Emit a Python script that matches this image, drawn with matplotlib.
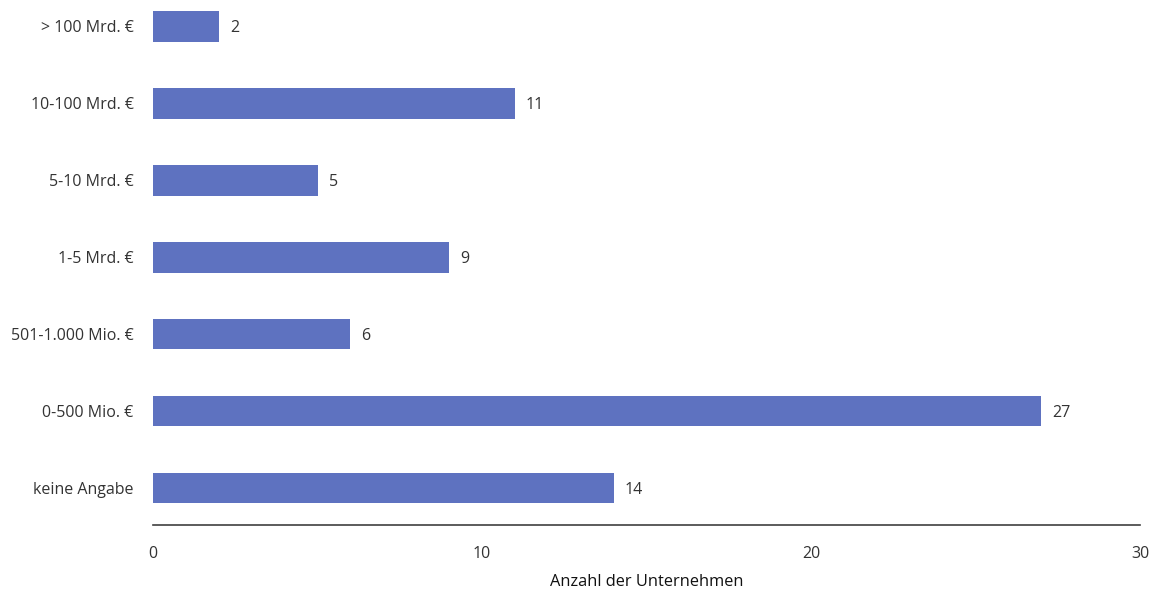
import matplotlib.pyplot as plt

plt.rcParams['font.family'] = ['Open Sans', 'DejaVu Sans']

categories = ['keine Angabe', '0-500 Mio. €', '501-1.000 Mio. €', '1-5 Mrd. €',
              '5-10 Mrd. €', '10-100 Mrd. €', '> 100 Mrd. €']
counts = [14, 27, 6, 9, 5, 11, 2]

bar_color = '#5e72c0'
text_color = '#333333'
fs = 11.5

fig = plt.figure(figsize=(11.6, 5.89), dpi=100)
ax = fig.add_axes([153/1160, 1 - 525/589, 987/1160, 525/589])

pos = list(range(len(categories)))
ax.barh(pos, counts, height=0.4, color=bar_color)
for p, v in zip(pos, counts):
    ax.annotate(str(v), (v, p), xytext=(8, 0), textcoords='offset points',
                va='center_baseline', ha='left', fontsize=fs, color=text_color)

ax.set_xlim(0, 30)
ax.set_ylim(-0.48, 6.34)
ax.set_xticks([0, 10, 20, 30])
ax.set_yticks(pos)
ax.set_yticklabels(categories)
ax.tick_params(axis='both', length=0, labelsize=fs, colors=text_color)
ax.tick_params(axis='y', pad=14)
ax.tick_params(axis='x', pad=15)

for s in ['top', 'right', 'left']:
    ax.spines[s].set_visible(False)
ax.spines['bottom'].set_color('#404040')
ax.spines['bottom'].set_linewidth(1.2)

ax.set_xlabel('Anzahl der Unternehmen', fontsize=11.8, color='#111111', labelpad=9)

plt.savefig('out.png', dpi=100)
